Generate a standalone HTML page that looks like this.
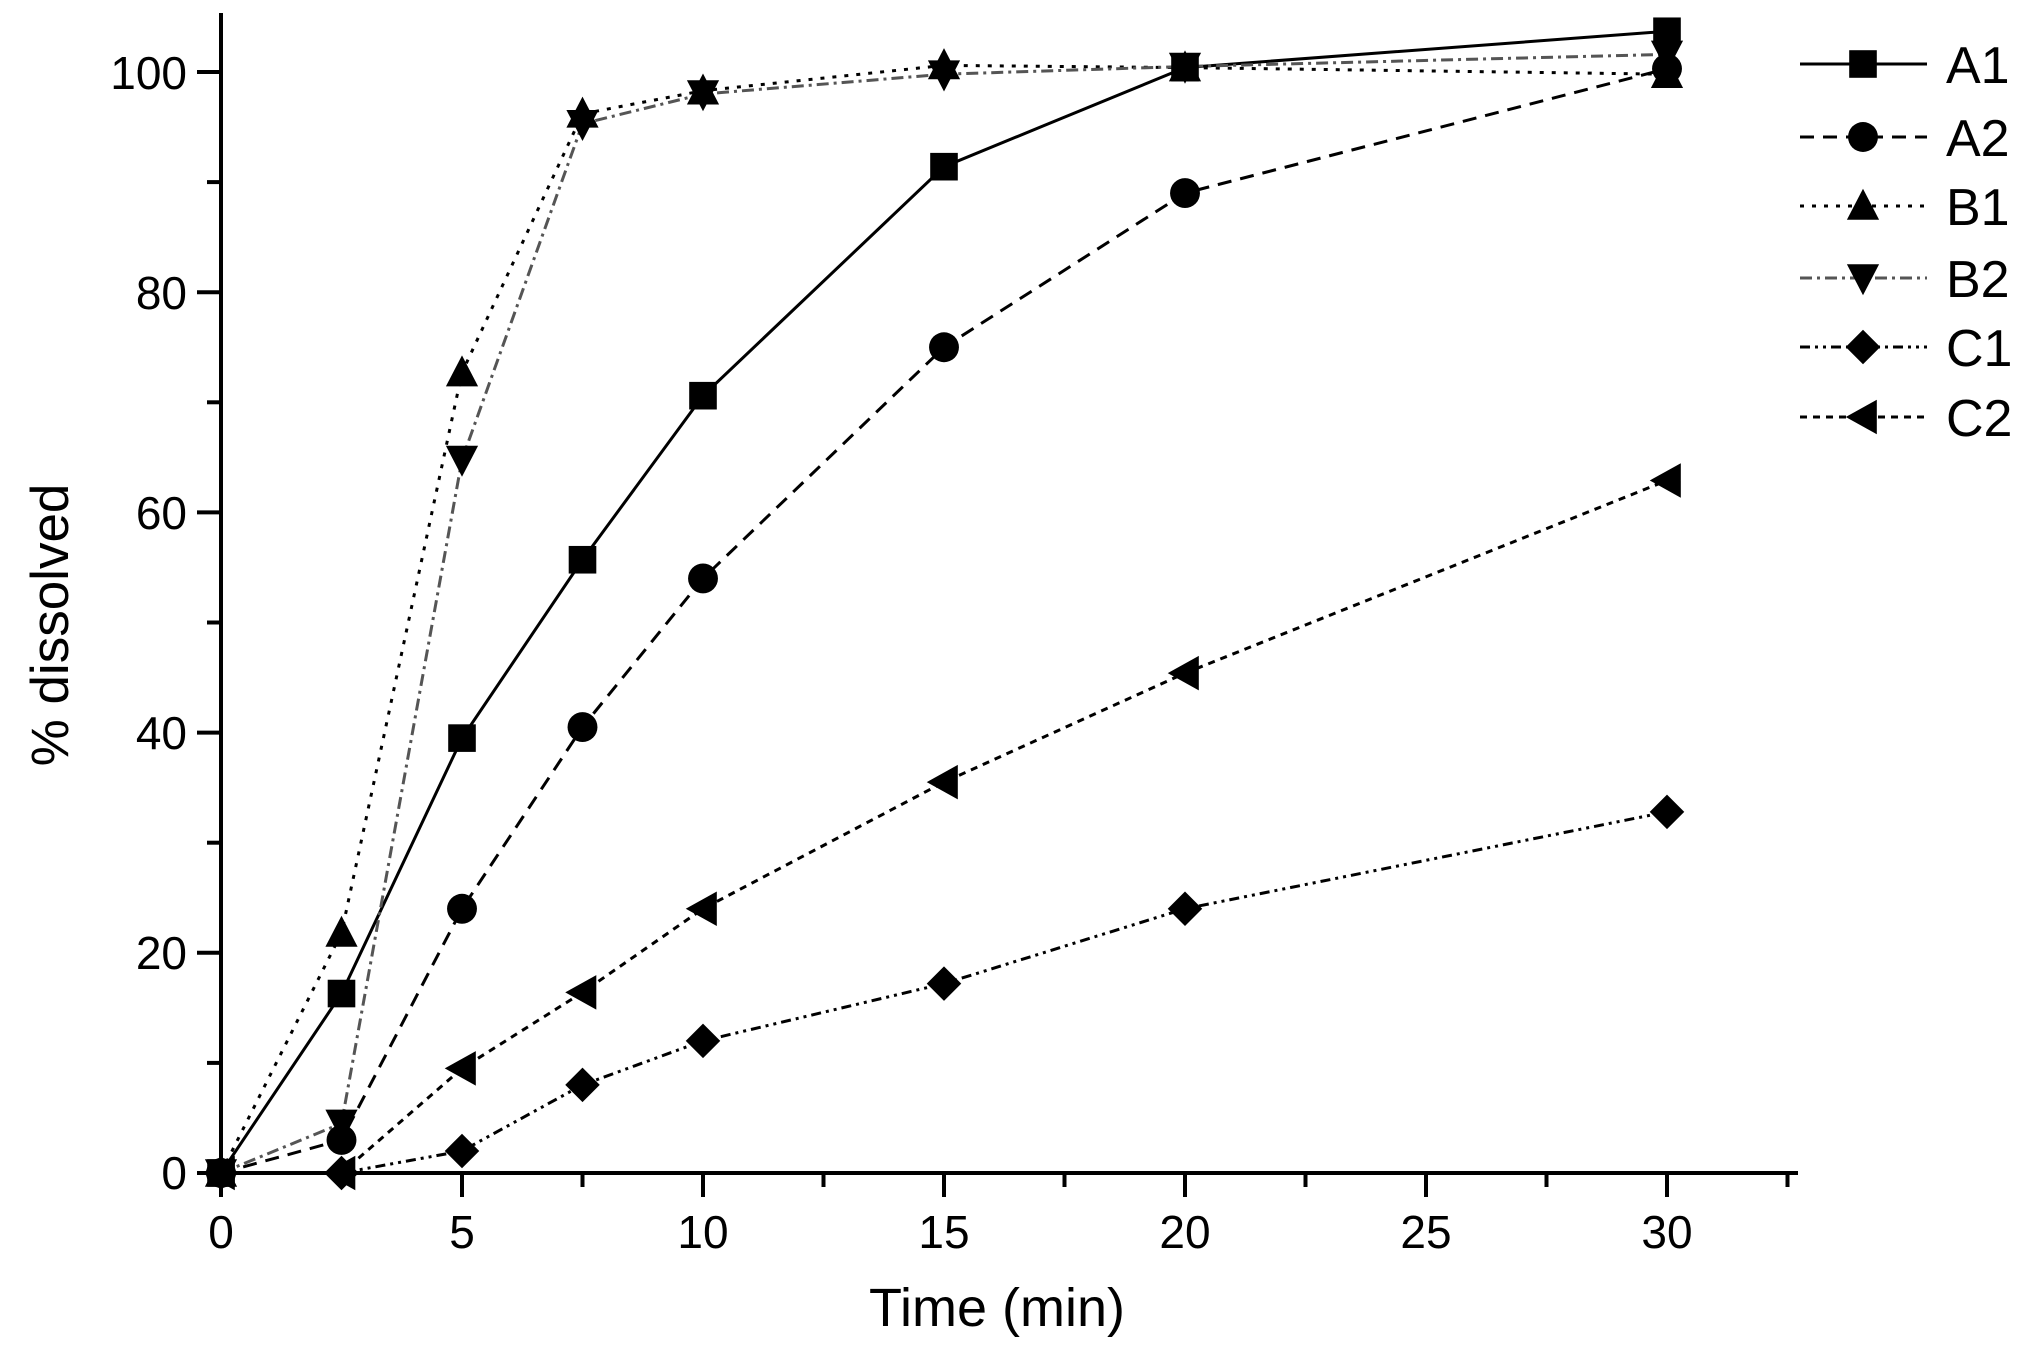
<!DOCTYPE html>
<html><head><meta charset="utf-8"><style>
html,body{margin:0;padding:0;background:#fff}
svg{display:block}
text{font-family:"Liberation Sans",Arial,sans-serif;fill:#000}
</style></head><body>
<svg id="s" width="2033" height="1349" viewBox="0 0 2033 1349" xmlns="http://www.w3.org/2000/svg">
<g stroke="#000" stroke-width="4" fill="none">
<line x1="221" y1="13" x2="221" y2="1175"/>
<line x1="219" y1="1173" x2="1798" y2="1173"/>
</g>
<g id="ticks" stroke="#000" stroke-width="4"></g>
<g font-size="46" text-anchor="middle">
<text x="221" y="1248">0</text><text x="462" y="1248">5</text><text x="703" y="1248">10</text>
<text x="944" y="1248">15</text><text x="1185" y="1248">20</text><text x="1426" y="1248">25</text><text x="1667" y="1248">30</text>
</g>
<g font-size="46" text-anchor="end">
<text x="187" y="1189">0</text><text x="187" y="969">20</text><text x="187" y="749">40</text>
<text x="187" y="529">60</text><text x="187" y="309">80</text><text x="187" y="89">100</text>
</g>
<text x="997" y="1326" font-size="54" text-anchor="middle">Time (min)</text>
<text transform="translate(68,625) rotate(-90)" font-size="53" text-anchor="middle">% dissolved</text>
<g id="series"></g>
<g font-size="52">
<text x="1946" y="83">A1</text><text x="1946" y="156">A2</text><text x="1946" y="225">B1</text>
<text x="1946" y="297">B2</text><text x="1946" y="366">C1</text><text x="1946" y="436">C2</text>
</g>
</svg>
<script>
var NS="http://www.w3.org/2000/svg";
function X(t){return 221+t*48.2}
function Y(v){return 1173-v*11.01}
function el(p,n,a){var e=document.createElementNS(NS,n);for(var k in a)e.setAttribute(k,a[k]);p.appendChild(e);return e}
var tk=document.getElementById('ticks');
for(var t=0;t<=32.5;t+=2.5){var maj=(t%5===0);el(tk,'line',{x1:X(t),y1:1173,x2:X(t),y2:1173+(maj?24:14)})}
for(var v=0;v<=100;v+=10){var maj=(v%20===0);el(tk,'line',{x1:221,y1:Y(v),x2:221-(maj?24:14),y2:Y(v)})}
var T=[0,2.5,5,7.5,10,15,20,30];
var S=[
{d:[0,16.3,39.5,55.7,70.6,91.4,100.4,103.7],m:'sq',da:'none',ly:64},
{d:[0,3,24,40.5,54,75,89,100.3],m:'ci',da:'14,9',ly:137},
{d:[0,21.8,72.7,96.2,98.3,100.6,100.4,99.8],m:'up',da:'4,8',ly:206},
{d:[0,4.5,64.8,95.3,98,99.8,100.5,101.6],m:'dn',da:'12,5,3,5',ly:278,c:'#555'},
{d:[0,0,2,8,12,17.2,24,32.8],m:'di',da:'10,5,3,5,3,5',ly:347},
{d:[0,0,9.5,16.4,24,35.5,45.4,62.9],m:'le',da:'7,6',ly:417}
];
var g=document.getElementById('series');
var k=1.15;
function mk(m,x,y){
 var a=14*k,b=12*k,c=15*k;
 if(m=='sq')el(g,'rect',{x:x-12*k,y:y-12*k,width:24*k,height:24*k});
 else if(m=='ci')el(g,'circle',{cx:x,cy:y,r:13*k});
 else if(m=='up')el(g,'polygon',{points:(x-a)+','+(y+b)+' '+(x+a)+','+(y+b)+' '+x+','+(y-c)});
 else if(m=='dn')el(g,'polygon',{points:(x-a)+','+(y-b)+' '+(x+a)+','+(y-b)+' '+x+','+(y+c)});
 else if(m=='di')el(g,'polygon',{points:x+','+(y-c)+' '+(x+c)+','+y+' '+x+','+(y+c)+' '+(x-c)+','+y});
 else if(m=='le')el(g,'polygon',{points:(x-c)+','+y+' '+(x+b)+','+(y-c)+' '+(x+b)+','+(y+c)});
}
S.forEach(function(s){
 var p=s.d.map(function(v,i){return X(T[i])+','+Y(v)}).join(' ');
 var a={points:p,fill:'none',stroke:s.c||'#000','stroke-width':3};
 if(s.da!='none')a['stroke-dasharray']=s.da;
 el(g,'polyline',a);
 el(g,'line',Object.assign({x1:1800,y1:s.ly,x2:1927,y2:s.ly,stroke:s.c||'#000','stroke-width':3},s.da!='none'?{'stroke-dasharray':s.da}:{}));
});
S.forEach(function(s){s.d.forEach(function(v,i){mk(s.m,X(T[i]),Y(v))});mk(s.m,1863,s.ly)});
</script>
</body></html>
